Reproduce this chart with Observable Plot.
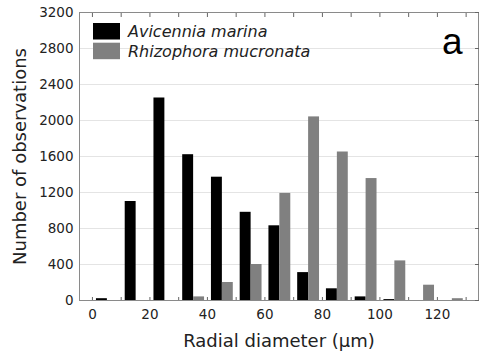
<!DOCTYPE html>
<html>
<head>
<meta charset="utf-8">
<script src="https://cdn.jsdelivr.net/npm/d3@7"></script>
<script src="https://cdn.jsdelivr.net/npm/@observablehq/plot@0.6"></script>
<style>
  html, body { margin: 0; padding: 0; background: #fff; }
  #chart svg { display: block; }
</style>
</head>
<body>
<div id="chart"></div>
<script>
// Bin starts (radial diameter, µm)
const bins = [0, 10, 20, 30, 40, 50, 60, 70, 80, 90, 100, 110, 120];
const avicennia = [20, 1100, 2250, 1620, 1370, 980, 830, 310, 130, 40, 10, 0, 0];
const rhizophora = [0, 0, 0, 40, 200, 400, 1190, 2040, 1650, 1355, 440, 170, 20];
const species = ["Avicennia marina", "Rhizophora mucronata"];
const colors = ["#000000", "#808080"];
const yTicks = [0, 400, 800, 1200, 1600, 2000, 2400, 2800, 3200];
const xTicks = [0, 20, 40, 60, 80, 100, 120];
const minorTicks = [0, 10, 20, 30, 40, 50, 60, 70, 80, 90, 100, 110, 120, 130];

const data = [];
bins.forEach((b, i) => {
  data.push({bin: b, species: species[0], count: avicennia[i], s: 0});
  data.push({bin: b, species: species[1], count: rhizophora[i], s: 1});
});

const FONT = "DejaVu Sans, Verdana, sans-serif";
const fmt = d3.format("d");

const chart = Plot.plot({
  width: 480,
  height: 353,
  marginLeft: 79,
  marginRight: 2,
  marginTop: 12,
  marginBottom: 53,
  style: {fontFamily: FONT, background: "#fff"},
  x: {domain: [-4.5, 134.3]},
  y: {domain: [0, 3200]},
  color: {domain: species, range: colors},
  marks: [
    Plot.gridY(yTicks, {stroke: "#e4e4e4", strokeOpacity: 1}),
    Plot.rectY(data, {
      x1: d => d.bin + (d.s === 0 ? 1.4 : 5.2),
      x2: d => d.bin + (d.s === 0 ? 5.2 : 9.0),
      y: "count",
      fill: "species"
    }),
    Plot.frame({stroke: "#8a8a8a"}),
    Plot.axisY(yTicks, {tickSize: 0, tickPadding: 6, fontSize: 13.5, fill: "#222", label: null, tickFormat: fmt}),
    Plot.axisY(yTicks, {anchor: "right", tickSize: -4, text: null, stroke: "#666", label: null}),
    Plot.axisX(xTicks, {tickSize: 0, tickPadding: 9, fontSize: 13.5, fill: "#222", label: null, tickFormat: fmt}),
    Plot.axisX(minorTicks, {anchor: "top", tickSize: -4, text: null, stroke: "#666", label: null}),
    Plot.axisX(minorTicks, {anchor: "bottom", tickSize: -3, text: null, stroke: "#666", label: null}),
    Plot.text(["Number of observations"], {frameAnchor: "left", dx: -59, rotate: -90, fontSize: 18, fill: "#222", lineAnchor: "middle", textAnchor: "middle"}),
    Plot.text(["Radial diameter (µm)"], {frameAnchor: "bottom", dy: 41, fontSize: 18, fill: "#222", lineAnchor: "middle", textAnchor: "middle"}),
    Plot.text(["a"], {frameAnchor: "top-right", dx: -16, dy: 30, fontSize: 37, fontFamily: "Liberation Sans, Arial, sans-serif", fill: "#000", lineAnchor: "middle", textAnchor: "end"})
  ]
});

// Legend (inside plot area, top-left)
const svg = d3.select(chart);
const lg = svg.append("g").attr("transform", "translate(93,23)");
species.forEach((s, i) => {
  const g = lg.append("g").attr("transform", `translate(0,${i * 19.7})`);
  g.append("rect").attr("width", 27).attr("height", 16.5).attr("fill", colors[i]);
  g.append("text").attr("x", 35).attr("y", 8.5).attr("dy", "0.35em")
    .attr("text-anchor", "start")
    .attr("font-size", 16).attr("font-style", "italic").attr("font-family", FONT).attr("fill", "#222").text(s);
});

document.getElementById("chart").appendChild(chart);
</script>
</body>
</html>
